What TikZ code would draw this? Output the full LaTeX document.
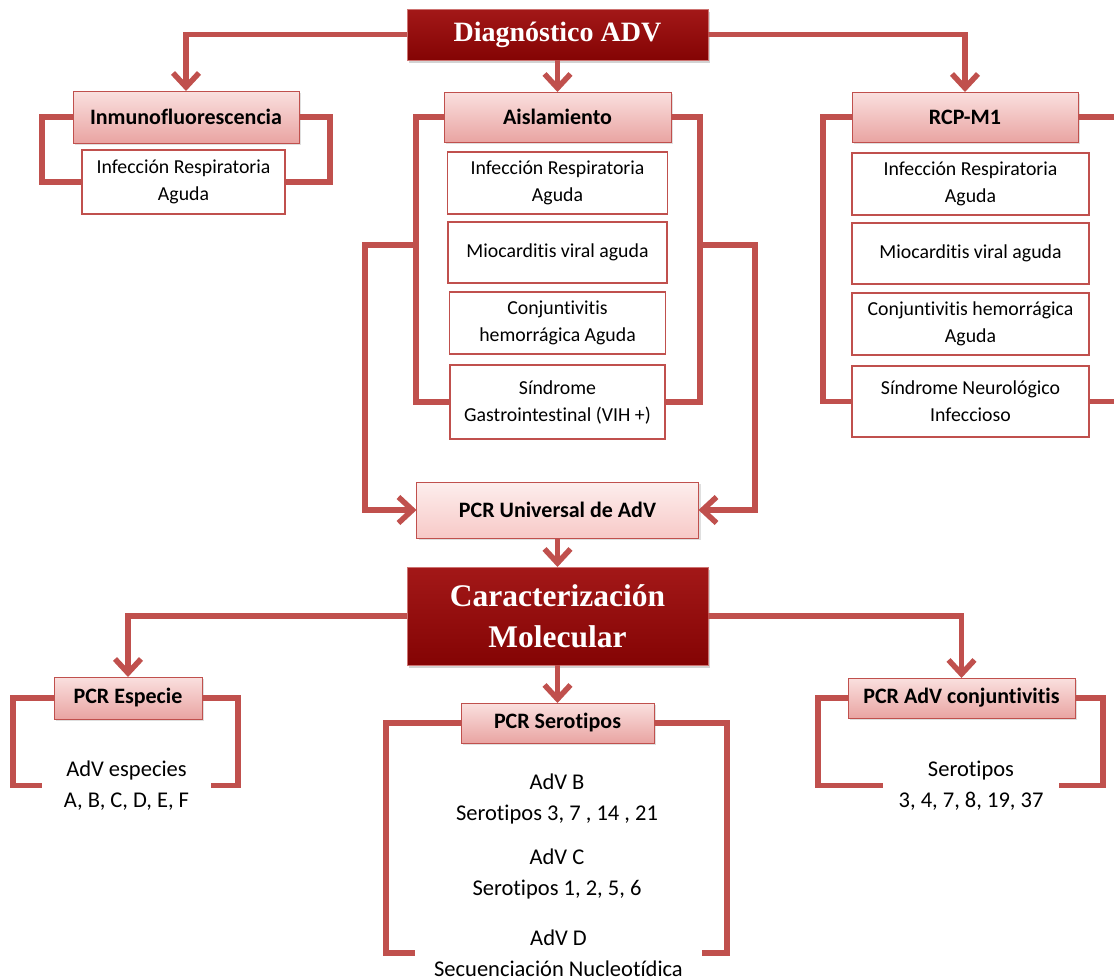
\documentclass[tikz,border=0pt]{standalone}
\usepackage{fontspec}
\setmainfont{Carlito}[Ligatures=NoCommon]
\newfontfamily\headserif{Liberation Serif}
\usetikzlibrary{arrows.meta,positioning,shadows}
\definecolor{rim}{HTML}{C0504D}
\definecolor{wine}{HTML}{840404}
\definecolor{winetop}{HTML}{A31818}
\definecolor{blush}{HTML}{FAE0DF}
\definecolor{blushdeep}{HTML}{E9A4A2}
\definecolor{pale}{HTML}{FDEEED}
\definecolor{palemid}{HTML}{F7C9C7}
\tikzset{titlebox/.style={draw=rim!80,line width=1pt,top color=winetop,bottom color=wine,text=white,align=center,font=\headserif\bfseries\fontsize{28}{41}\selectfont,inner sep=0pt,outer sep=0pt,drop shadow={opacity=.35,shadow xshift=2pt,shadow yshift=-3pt}}, headbox/.style={draw=rim,line width=1pt,top color=blush,bottom color=blushdeep,font=\bfseries\fontsize{22}{24}\selectfont,inner sep=0pt,outer sep=0pt,minimum height=50pt,drop shadow={opacity=.25,shadow xshift=2pt,shadow yshift=-2pt}}, subbox/.style={draw=rim,line width=1.5pt,fill=white,align=center,font=\fontsize{19.8}{27}\selectfont,inner sep=0pt,outer sep=0pt,minimum height=62pt}, notetext/.style={align=center,font=\fontsize{22.5}{31}\selectfont,inner sep=0pt,outer sep=0pt}, link/.style={draw=rim,line width=5.5pt}, arr/.style={link,-{Straight Barb[length=14pt,width=26pt]}}}

\begin{document}
\begin{tikzpicture}[x=1pt,y=-1pt]
\useasboundingbox (0,0) rectangle (1114,980);
% diagnostico
\node[titlebox,minimum width=301pt,minimum height=51pt] (diag) at (557.5,34.5) {Diagnóstico ADV};
\node[headbox,minimum width=226pt,minimum height=52pt] (inm) at (186,117) {Inmunofluorescencia};
\node[subbox,minimum width=203pt,minimum height=64pt] (inm1) at (183.5,182) {Infección Respiratoria\\Aguda};
\node[headbox,minimum width=227pt] (ais) at (557.5,117) {Aislamiento};
\node[subbox,minimum width=220pt,below=10pt of ais] (ais1) {Infección Respiratoria\\Aguda};
\node[subbox,minimum width=219pt,minimum height=61pt,below=8pt of ais1] (ais2) {Miocarditis viral aguda};
\node[subbox,minimum width=216pt,below=9pt of ais2] (ais3) {Conjuntivitis\\hemorrágica Aguda};
\node[subbox,minimum width=215pt,minimum height=74pt,below=11pt of ais3] (ais4) {Síndrome\\Gastrointestinal (VIH +)};
\node[headbox,minimum width=226pt] (rcp) at (965,117) {RCP-M1};
\node[subbox,minimum width=237pt] (rcp1) at (970.5,184) {Infección Respiratoria\\Aguda};
\node[subbox,minimum width=237pt,minimum height=61pt,below=8pt of rcp1] (rcp2) {Miocarditis viral aguda};
\node[subbox,minimum width=237pt,below=9pt of rcp2] (rcp3) {Conjuntivitis hemorrágica\\Aguda};
\node[subbox,minimum width=237pt,minimum height=71pt,below=11pt of rcp3] (rcp4) {Síndrome Neurológico\\Infeccioso};
\node[headbox,minimum width=282pt,minimum height=56pt,top color=pale,bottom color=palemid] (pcru) at (557.5,510) {PCR Universal de AdV};
% caracterizacion
\node[titlebox,minimum width=301pt,minimum height=98pt,font=\headserif\bfseries\fontsize{31.5}{41}\selectfont] (car) at (557.5,616) {Caracterización\\Molecular};
\node[headbox,minimum width=148pt,minimum height=42pt] (esp) at (128,698) {PCR Especie};
\node[headbox,minimum width=193pt,minimum height=40pt] (sero) at (557.5,723) {PCR Serotipos};
\node[headbox,minimum width=227pt,minimum height=40pt] (conj) at (961.5,698) {PCR AdV conjuntivitis};
\node[notetext,minimum width=169pt] (espt) at (126.5,785.5) {AdV especies\\A, B, C, D, E, F};
\node[notetext] (st1) at (557,798.5) {AdV B\\Serotipos 3, 7 , 14 , 21};
\node[notetext] (st2) at (557,874) {AdV C\\Serotipos 1, 2, 5, 6};
\node[notetext,minimum width=287pt] (st3) at (558.5,953) {AdV D\\Secuenciación Nucleotídica};
\node[notetext,minimum width=176pt] (conjt) at (971,785.5) {Serotipos\\3, 4, 7, 8, 19, 37};
\coordinate (forkL) at (417,245);
\coordinate (forkR) at (700,245);
\draw[arr] (diag.west) -| (inm.north);
\draw[arr] (diag) -- (ais);
\draw[arr] (diag.east) -| (rcp.north);
\draw[link] (inm.west) -- ++(-31,0) |- (inm1.west);
\draw[link] (inm.east) -- ++(31,0) |- (inm1.east);
\draw[link] (ais.west) -- ++(-28,0) |- (ais4.west);
\draw[link] (ais.east) -- ++(29,0) |- (ais4.east);
\draw[arr] (forkL) -- ++(-52,0) |- (pcru.west);
\draw[arr] (forkR) -- ++(55,0) |- (pcru.east);
\draw[link] (rcp.west) -- ++(-29,0) |- (rcp4.west);
\draw[link] (rcp.east) -- ++(50,0) |- (rcp4.east);
\draw[arr] (pcru) -- (car);
\draw[arr] (car.west) -| (esp.north);
\draw[arr] (car) -- (sero);
\draw[arr] (car.east) -| (conj.north);
\draw[link] (esp.west) -- ++(-41,0) |- (espt.west);
\draw[link] (esp.east) -- ++(36,0) |- (espt.east);
\draw[link] (sero.west) -- ++(-75,0) |- (st3.west);
\draw[link] (sero.east) -- ++(73,0) |- (st3.east);
\draw[link] (conj.west) -- ++(-30,0) |- (conjt.west);
\draw[link] (conj.east) -- ++(28,0) |- (conjt.east);
\end{tikzpicture}
\end{document}
